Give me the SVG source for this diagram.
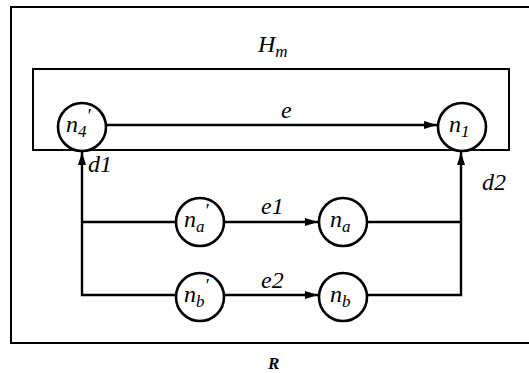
<svg xmlns="http://www.w3.org/2000/svg" width="529" height="373" viewBox="0 0 529 373">
<defs>
<marker id="arr" viewBox="0 0 13 8" refX="13" refY="4" markerWidth="13" markerHeight="8" markerUnits="userSpaceOnUse" orient="auto">
<path d="M0,0 L13,4 L0,8 Z" fill="#000"/>
</marker>
</defs>
<style>
.frame{fill:none;stroke:#000;stroke-width:2}
.node circle{fill:#fff;stroke:#000;stroke-width:2.6}
.edge{fill:none;stroke:#000;stroke-width:2.4}
text{font-family:"Liberation Serif","DejaVu Serif",serif;font-style:italic;fill:#000}
.lbl{font-size:24px}
.sub{font-size:17px}
.pr{font-size:19px}
</style>
<path class="frame" d="M535,7 L11,7 L11,343 L535,343"/>
<g id="Hm">
<rect class="frame" x="33" y="69" width="476" height="81"/>
<text class="lbl" x="258" y="52">H<tspan class="sub" dy="5">m</tspan></text>
</g>
<g id="connectors">
<line class="edge" x1="106" y1="125" x2="437" y2="125" marker-end="url(#arr)"/>
<text class="lbl" x="281" y="118">e</text>
<path class="edge" d="M176,222 L82,222"/>
<path class="edge" d="M176,295 L82,295 L82,152" marker-end="url(#arr)"/>
<text class="lbl" x="88" y="172">d1</text>
<line class="edge" x1="224" y1="222" x2="318" y2="222" marker-end="url(#arr)"/>
<text class="lbl" x="261" y="214">e1</text>
<line class="edge" x1="224" y1="295" x2="318" y2="295" marker-end="url(#arr)"/>
<text class="lbl" x="261" y="288">e2</text>
<path class="edge" d="M367,222 L461,222"/>
<path class="edge" d="M367,295 L461,295 L461,152" marker-end="url(#arr)"/>
<text class="lbl" x="482" y="190">d2</text>
</g>
<g id="n4p" class="node">
<circle cx="82" cy="127" r="24"/>
<text class="lbl" x="66" y="132">n<tspan class="sub" dy="5">4</tspan><tspan class="pr" dy="-15">′</tspan></text>
</g>
<g id="n1" class="node">
<circle cx="462" cy="127" r="24"/>
<text class="lbl" x="449" y="132">n<tspan class="sub" dy="5">1</tspan></text>
</g>
<g id="nap" class="node">
<circle cx="200" cy="222" r="24"/>
<text class="lbl" x="184" y="227">n<tspan class="sub" dy="5">a</tspan><tspan class="pr" dy="-15">′</tspan></text>
</g>
<g id="na" class="node">
<circle cx="343" cy="222" r="24"/>
<text class="lbl" x="330" y="227">n<tspan class="sub" dy="5">a</tspan></text>
</g>
<g id="nbp" class="node">
<circle cx="200" cy="297" r="24"/>
<text class="lbl" x="184" y="302">n<tspan class="sub" dy="5">b</tspan><tspan class="pr" dy="-15">′</tspan></text>
</g>
<g id="nb" class="node">
<circle cx="343" cy="297" r="24"/>
<text class="lbl" x="330" y="302">n<tspan class="sub" dy="5">b</tspan></text>
</g>
<text x="268" y="369" style="font-size:17px;font-weight:bold">R</text>
</svg>
